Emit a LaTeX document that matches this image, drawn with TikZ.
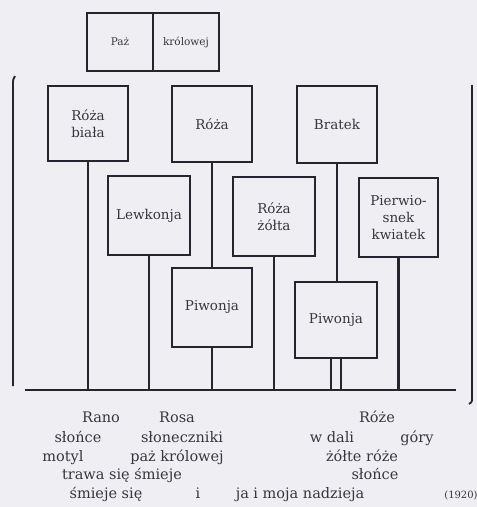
\documentclass[tikz,border=0pt]{standalone}
\usepackage{fontspec}
\setmainfont{DejaVu Serif}
\definecolor{paper}{RGB}{239,239,243}
\definecolor{ink}{RGB}{38,36,46}
\definecolor{textink}{RGB}{55,53,62}
\tikzset{
  box/.style={draw=ink, line width=2.6pt, rectangle, inner sep=0pt, align=center,
    text=textink, font=\fontsize{13.5}{17}\selectfont},
  smallbox/.style={box, font=\fontsize{10.5}{12}\selectfont},
  conn/.style={draw=ink, line width=2.3pt},
  rule/.style={draw=ink, line width=2.8pt},
  brk/.style={draw=ink, line width=1.8pt},
  verse/.style={anchor=base, text=textink, inner sep=0pt, font=\fontsize{14.5}{18}\selectfont},
  datefont/.style={anchor=base, text=textink, inner sep=0pt, font=\fontsize{10}{12}\selectfont}
}
\begin{document}
\begin{tikzpicture}[x=1pt,y=-1pt]
  \fill[paper] (0,0) rectangle (477,507);
  \useasboundingbox (0,0) rectangle (477,507);

  % title pair
  \node[smallbox, minimum width=66pt, minimum height=58pt] (pz) at (120,42) {Paż};
  \node[smallbox, minimum width=66pt, minimum height=58pt] (kr) at (186,42) {królowej};

  % first row
  \node[box, minimum width=80pt, minimum height=75pt] (rb) at (88,123.5) {Róża\\biała};
  \node[box, minimum width=80pt, minimum height=76pt] (ro) at (212,124) {Róża};
  \node[box, minimum width=80pt, minimum height=77pt] (bt) at (337,124.5) {Bratek};

  % second row
  \node[box, minimum width=82pt, minimum height=79pt] (lw) at (149,215.5) {Lewkonja};
  \node[box, minimum width=82pt, minimum height=79pt] (rz) at (274,216.5) {Róża\\żółta};
  \node[box, minimum width=79pt, minimum height=79pt] (pk) at (398.5,217.5) {Pierwio-\\snek\\kwiatek};

  % third row
  \node[box, minimum width=80pt, minimum height=79pt] (pw1) at (212,307.5) {Piwonja};
  \node[box, minimum width=82pt, minimum height=76pt] (pw2) at (336,320) {Piwonja};

  % ground line
  \coordinate (baseL) at (25,390);
  \coordinate (baseR) at (456,390);
  \draw[rule] (baseL) -- (baseR);

  % stems
  \draw[conn] (rb.south) -- (rb.south |- baseL);
  \draw[conn] (lw.south) -- (lw.south |- baseL);
  \draw[conn] (ro.south) -- (ro.south |- pw1.north);
  \draw[conn] (pw1.south) -- (pw1.south |- baseL);
  \draw[conn] (rz.south) -- (rz.south |- baseL);
  \draw[conn] (bt.south) -- (bt.south |- pw2.north);
  \draw[conn] ([xshift=-5pt]pw2.south) -- ([xshift=-5pt]pw2.south |- baseL);
  \draw[conn] ([xshift=5pt]pw2.south) -- ([xshift=5pt]pw2.south |- baseL);
  \draw[conn] (pk.south) -- (pk.south |- baseL);

  % side brackets
  \draw[brk] (15,76) .. controls (13,79) .. (13,86) -- (13,386);
  \draw[brk] (472,85) -- (472,398) .. controls (472,402) .. (469,404);

  % verse
  \node[verse] (v1a) at (101,422) {Rano};
  \node[verse] (v1b) at (177,422) {Rosa};
  \node[verse] (v1c) at (377,422) {Róże};
  \node[verse] (v2a) at (78,442) {słońce};
  \node[verse] (v2b) at (182,442) {słoneczniki};
  \node[verse] (v2c) at (332,442) {w dali};
  \node[verse] (v2d) at (417,442) {góry};
  \node[verse] (v3a) at (63,461) {motyl};
  \node[verse] (v3b) at (177,461) {paż królowej};
  \node[verse] (v3c) at (362,461) {żółte róże};
  \node[verse] (v4a) at (122,479) {trawa się śmieje};
  \node[verse] (v4b) at (375,479) {słońce};
  \node[verse] (v5a) at (106,498) {śmieje się};
  \node[verse] (v5b) at (198,498) {i};
  \node[verse] (v5c) at (300,498) {ja i moja nadzieja};
  \node[datefont] (yr) at (461,498) {(1920)};
\end{tikzpicture}
\end{document}
